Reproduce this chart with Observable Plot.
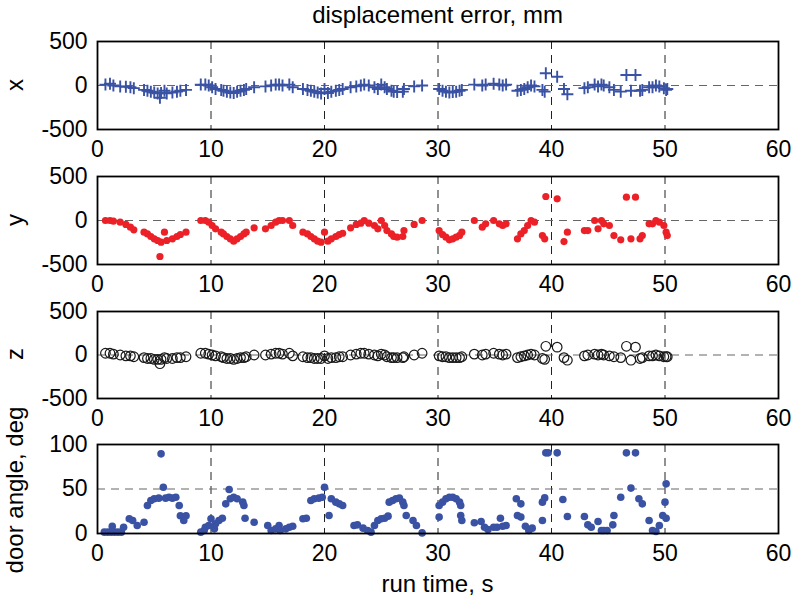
<!DOCTYPE html>
<html>
<head>
<meta charset="utf-8">
<script src="https://cdn.jsdelivr.net/npm/d3@7"></script>
<script src="https://cdn.jsdelivr.net/npm/@observablehq/plot@0.6"></script>
<style>
  html, body { margin: 0; padding: 0; background: #fff; }
  #chart { position: relative; width: 795px; height: 604px; font-family: "Liberation Sans", Arial, Helvetica, sans-serif; color: #000; overflow: hidden; }
  .lbl { position: absolute; white-space: nowrap; font-size: 24px; line-height: 1; transform: translate(-50%, -50%); }
  .ylbl { position: absolute; white-space: nowrap; font-size: 24px; line-height: 1; transform: translate(-50%, -50%) rotate(-90deg); }
</style>
</head>
<body>
<div id="chart"></div>
<script>
// ---- tick labels ----
const xTicks = [0, 10, 20, 30, 40, 50, 60];
const gridX = [10, 20, 30, 40, 50];
const dispTicks = [-500, 0, 500];
const angleTicks = [0, 50, 100];

// ---- sample times (s) shared by x, y, z displacement errors ----
const timeS = [
  0.7, 1.1, 1.4, 2.0, 2.5, 2.9, 3.2, 4.1, 4.4, 4.7, 5.0, 5.3, 5.5, 5.6, 5.9, 6.1, 6.6, 7.0, 7.3, 7.8,
  9.1, 9.5, 9.8, 10.1, 10.4, 10.9, 11.1, 11.4, 11.7, 12.0, 12.3, 12.6, 12.9, 13.1, 13.8,
  14.8, 15.3, 15.7, 16.0, 16.3, 16.9, 17.2,
  18.1, 18.5, 18.8, 19.1, 19.4, 19.7, 20.0, 20.3, 20.6, 21.0, 21.3, 21.6,
  22.3, 22.8, 23.2, 23.5, 23.9, 24.4, 24.7, 25.0, 25.3, 25.5, 25.9, 26.1, 26.4, 26.9, 27.0, 27.9, 28.6,
  30.1, 30.4, 30.7, 31.0, 31.3, 31.6, 31.9, 32.1,
  33.2, 33.9, 34.2, 34.9, 35.4, 35.7, 36.0, 37.0, 37.3, 37.6, 37.9, 38.2, 38.5,
  39.2, 39.4, 39.5, 40.5, 41.1, 41.4,
  42.9, 43.2, 43.8, 44.1, 44.4, 44.6, 45.1, 45.5, 46.1, 46.6, 47.0, 47.4, 47.8, 48.0, 48.6, 48.9, 49.2, 49.5, 49.9, 50.1, 50.2
];

// ---- x displacement error (mm) ----
const xErr = [
  10, 20, 0, -10, -15, -20, -30, -50, -60, -70, -80, -90, -140, -85, -60, -90, -80, -70, -60, -50,
  10, 10, 0, -20, -40, -50, -60, -70, -80, -85, -70, -60, -50, -40, -20,
  -10, 0, 10, 10, 0, 10, -20,
  -40, -50, -60, -70, -80, -90, -40, -85, -70, -60, -50, -40,
  -20, -10, 0, 10, 0, -20, -40, 10, -20, -40, -60, -70, -75, -70, -40, -10, 0,
  -40, -60, -70, -80, -75, -70, -60, -50,
  10, 0, 10, 20, 10, 0, 10, -60, -50, -40, -20, 0, -10,
  -50, -70, 140, 100, -40, -100,
  -30, -20, 10, -10, 10, 0, -20, -50, -70, 120, -60, 120, -60, -50, -20, -20, 0, -10, -30, -50, -40
];

// ---- y displacement error (mm) ----
const yErr = [
  0, 0, -8, -19, -45, -76, -106, -133, -152, -182, -208, -227, -409, -246, -133, -227, -208, -182, -159, -133,
  0, 0, -19, -57, -95, -133, -152, -182, -208, -235, -208, -182, -152, -133, -83,
  -95, -57, -19, 0, 0, 0, -57,
  -133, -152, -182, -208, -235, -246, -133, -235, -208, -182, -160, -145,
  -83, -45, -30, 0, -30, -57, -95, 0, -57, -114, -152, -182, -190, -182, -114, -45, 0,
  -114, -159, -190, -220, -208, -190, -170, -133,
  0, -76, -38, 0, -38, -57, -38, -208, -152, -114, -57, 0, -19,
  -171, -208, 273, 246, -239, -133,
  -114, -114, 0, -95, 0, -38, -57, -171, -220, 265, -208, 265, -208, -171, -38, -38, 0, -19, -57, -133, -171
];

// ---- z displacement error (mm) ----
const zErr = [
  20, 20, 10, 0, -10, -10, -20, -30, -40, -40, -50, -50, -100, -50, -30, -40, -40, -30, -30, -20,
  20, 20, 10, 0, -10, -20, -30, -40, -40, -50, -40, -30, -30, -20, 0,
  0, 10, 20, 20, 10, 20, -10,
  -20, -30, -30, -40, -40, -40, -10, -40, -30, -30, -20, -20,
  0, 10, 20, 20, 10, 0, -10, 10, 0, -20, -30, -30, -30, -30, -20, 0, 20,
  -10, -20, -20, -30, -30, -30, -30, -20,
  10, 0, 10, 20, 10, 0, 10, -30, -20, -10, 0, 10, 0,
  -40, -50, 100, 90, -30, -60,
  -10, 0, 10, 0, 10, 0, -10, -20, -30, 100, -60, 90, -40, -30, -10, -10, 0, -10, -20, -20, -20
];

// ---- door angle (deg) and its sample times (s) ----
const angleTime = [
  0.6, 0.9, 1.2, 1.3, 1.5, 1.8, 2.1, 2.3, 2.8, 3.1, 3.5, 4.1, 4.4, 4.7, 5.0, 5.4, 5.6, 5.8, 6.0, 6.3, 6.6, 6.9, 7.2, 7.3, 7.6, 7.8,
  9.1, 9.4, 9.5, 9.8, 10.0, 10.3, 10.4, 10.7, 11.0, 11.3, 11.6, 11.7, 12.0, 12.3, 12.8, 12.9, 13.0, 13.8,
  15.0, 15.3, 15.7, 16.0, 16.1, 16.6, 16.9, 17.2,
  18.1, 18.4, 18.8, 19.1, 19.5, 19.8, 20.0, 20.4, 20.6, 21.0, 21.3, 21.6,
  22.6, 22.9, 23.4, 23.8, 24.1, 24.4, 24.7, 25.0, 25.3, 25.6, 25.7, 26.0, 26.3, 26.6, 26.9, 27.0, 27.2, 27.8, 28.1, 28.6,
  30.1, 30.1, 30.4, 30.7, 31.0, 31.3, 31.6, 31.9, 32.0, 32.0, 32.1,
  33.2, 33.8, 34.1, 34.4, 34.9, 35.2, 35.5, 35.7, 36.0, 36.9, 37.0, 37.3, 37.3, 37.7, 38.0, 38.3,
  39.2, 39.2, 39.4, 39.5, 39.7, 40.5, 41.0, 41.4,
  42.9, 43.2, 43.5, 44.1, 44.4, 44.6, 44.9, 45.4, 45.5, 46.1, 46.6, 47.0, 47.4, 47.7, 48.0, 48.6, 48.9, 49.2, 49.5, 49.8, 50.0, 50.1, 50.1
];
const angleDeg = [
  1.5, 1.5, 1.5, 8, 1.5, 1.5, 1.5, 7, 16.5, 14.6, 9, 12.7, 31.5, 37, 39, 39.7, 89.5, 52, 39.7, 40.8, 39.7, 40.8, 31.5, 20, 14.6, 20,
  1.5, 3.4, 7, 9, 16.5, 5.2, 10.9, 14.6, 17.2, 33.3, 49.4, 39, 40.8, 39, 35.2, 31.5, 17.2, 12.7,
  9, 3.4, 5.2, 9, 3.4, 5.2, 7.1, 8.2,
  16.5, 17.2, 37, 39, 39.7, 40.8, 52, 20.2, 39, 35.2, 33.3, 31.5,
  9, 9.7, 6, 3.4, 1.5, 9, 14.6, 16.5, 17.2, 19.5, 35.2, 37, 39, 39.7, 35.2, 31.5, 20.2, 14.6, 9, 0.7,
  18.4, 31.5, 35.2, 39, 40.8, 40.8, 39, 35.2, 31.5, 20.2, 14.6,
  12, 13.5, 7.1, 4.5, 7.1, 7.1, 17.2, 8.2, 9, 39, 20.2, 33.3, 18.4, 8.2, 3.4, 6,
  14.6, 35.2, 40, 90.6, 90.6, 90.6, 38.2, 19.1,
  19.1, 9.7, 7.1, 13.5, 3.4, 3.4, 3.4, 9.7, 20.2, 40.8, 90.6, 51, 90.6, 39, 33.3, 14.6, 3.4, 2.2, 9, 20.2, 35.2, 55.8, 17.2
];

// ---- build tables ----
const dispRows = timeS.map((t, i) => ({t, x: xErr[i], y: yErr[i], z: zErr[i]}));
const angleRows = angleTime.map((t, i) => ({t, a: angleDeg[i]}));

const chart = document.getElementById("chart");
const FONT = '"Liberation Sans", Arial, Helvetica, sans-serif';
const BLUE = "#3a52a3", RED = "#ec2027", DARK = "#1a1a1a";

// plus symbol whose half-arm equals the dot radius
const plusSymbol = {
  draw(ctx, size) {
    const r = Math.sqrt(size / Math.PI);
    ctx.moveTo(-r, 0); ctx.lineTo(r, 0);
    ctx.moveTo(0, -r); ctx.lineTo(0, r);
  }
};

function panel(boxTop, boxBottom, yDomain, yTicks, refY, dataMarks) {
  const mt = 14, mb = 36;
  const svg = Plot.plot({
    width: 795,
    height: (boxBottom - boxTop) + mt + mb,
    marginLeft: 97, marginRight: 795 - 778, marginTop: mt, marginBottom: mb,
    style: {fontFamily: FONT, fontSize: "23px", color: "#000", background: "transparent", overflow: "visible"},
    x: {domain: [0, 60], ticks: xTicks, tickSize: 0, tickPadding: 11, tickFormat: d => String(d), label: null},
    y: {domain: yDomain, ticks: yTicks, tickSize: 0, tickPadding: 10, tickFormat: d => String(d), label: null},
    marks: [
      Plot.ruleX(gridX, {stroke: "#222", strokeWidth: 1, strokeDasharray: "8,6"}),
      Plot.ruleY([refY], {stroke: "#666", strokeWidth: 1.2, strokeDasharray: "8,6"}),
      ...dataMarks,
      Plot.frame({stroke: "#000", strokeWidth: 1.8})
    ]
  });
  svg.style.position = "absolute";
  svg.style.left = "0px";
  svg.style.top = (boxTop - mt) + "px";
  chart.appendChild(svg);
}

panel(41, 129, [-500, 500], dispTicks, 0, [
  Plot.dot(dispRows, {x: "t", y: "x", symbol: plusSymbol, r: 6, fill: "none", stroke: BLUE, strokeWidth: 1.9})
]);
panel(176, 264, [-500, 500], dispTicks, 0, [
  Plot.dot(dispRows, {x: "t", y: "y", r: 3.6, fill: RED, stroke: "none"})
]);
panel(311, 398, [-500, 500], dispTicks, 0, [
  Plot.dot(dispRows, {x: "t", y: "z", r: 4.8, fill: "none", stroke: DARK, strokeWidth: 1.2})
]);
panel(444, 533, [0, 100], angleTicks, 50, [
  Plot.dot(angleRows, {x: "t", y: "a", r: 3.8, fill: BLUE, stroke: "none"})
]);

function addLabel(text, x, y, cls) {
  const d = document.createElement("div");
  d.className = cls;
  d.textContent = text;
  d.style.left = x + "px";
  d.style.top = y + "px";
  chart.appendChild(d);
}
addLabel("displacement error, mm", 437.5, 15, "lbl");
addLabel("run time, s", 437.5, 584, "lbl");
addLabel("x", 15, 85, "ylbl");
addLabel("y", 15, 220, "ylbl");
addLabel("z", 15, 354, "ylbl");
addLabel("door angle, deg", 15, 490, "ylbl");
</script>
</body>
</html>
